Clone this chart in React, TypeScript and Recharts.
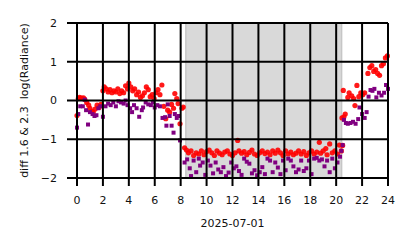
import {
  ScatterChart,
  Scatter,
  XAxis,
  YAxis,
  CartesianGrid,
  ReferenceArea,
  Label,
} from "recharts";

// axis ticks
const xTicks = [0, 2, 4, 6, 8, 10, 12, 14, 16, 18, 20, 22, 24];
const yTicks = [-2, -1, 0, 1, 2];

// shaded night window (hours)
const nightStart = 8.4;
const nightEnd = 20.42;

// red series: [hour, value]
const redDay: [number, number][] = [
  [0.0, -0.39], [0.1, 0.05], [0.2, 0.08], [0.35, 0.06], [0.5, 0.07], [0.6, 0.03],
  [0.75, -0.05], [0.9, -0.12], [1.0, -0.2], [1.15, -0.28], [1.25, -0.3], [1.4, -0.22],
  [1.55, -0.12], [1.7, -0.18], [1.85, -0.1], [2.0, 0.25], [2.1, 0.35], [2.25, 0.3],
  [2.4, 0.22], [2.55, 0.28], [2.7, 0.2], [2.85, 0.25], [3.0, 0.22], [3.15, 0.3],
  [3.3, 0.18], [3.45, 0.25], [3.6, 0.2], [3.75, 0.38], [3.9, 0.3], [4.0, 0.45],
  [4.15, 0.35], [4.3, 0.25], [4.45, 0.3], [4.6, 0.15], [4.75, 0.22], [4.9, 0.08],
  [5.05, 0.12], [5.2, 0.2], [5.35, 0.35], [5.5, 0.28], [5.65, 0.1], [5.8, 0.15],
  [5.95, 0.05], [6.1, 0.2], [6.25, 0.28], [6.4, 0.15], [6.55, 0.4], [6.7, -0.15],
  [6.85, -0.47], [7.0, -0.25], [7.15, -0.3], [7.3, -0.1], [7.45, -0.2], [7.55, 0.18],
  [7.7, 0.05], [7.8, -0.08], [7.95, -0.6], [8.1, -0.2], [8.2, -0.17],
];

const redNight: [number, number][] = [
  [8.3, -1.22], [8.45, -1.28], [8.6, -1.35], [8.8, -1.3], [9.0, -1.42], [9.2, -1.35],
  [9.4, -1.38], [9.6, -1.3], [9.8, -1.4], [10.0, -1.32], [10.2, -1.28], [10.4, -1.35],
  [10.6, -1.42], [10.8, -1.3], [11.0, -1.36], [11.2, -1.4], [11.4, -1.33], [11.6, -1.3],
  [11.8, -1.38], [12.0, -1.42], [12.2, -1.35], [12.4, -1.03], [12.5, -1.3], [12.7, -1.36],
  [12.9, -1.32], [13.1, -1.4], [13.3, -1.34], [13.5, -1.28], [13.7, -1.38], [13.9, -1.42],
  [14.1, -1.35], [14.3, -1.3], [14.5, -1.37], [14.7, -1.33], [14.9, -1.4], [15.1, -1.3],
  [15.3, -1.36], [15.5, -1.28], [15.7, -1.35], [15.9, -1.42], [16.1, -1.3], [16.3, -1.38],
  [16.5, -1.33], [16.7, -1.4], [16.9, -1.36], [17.1, -1.3], [17.3, -1.38], [17.5, -1.32],
  [17.7, -1.42], [17.9, -1.35], [18.1, -1.3], [18.3, -1.38], [18.5, -1.33], [18.7, -1.08],
  [18.8, -1.36], [19.0, -1.3], [19.2, -1.24], [19.3, -1.4], [19.5, -1.12], [19.7, -1.35],
  [19.9, -1.3], [20.1, -1.38], [20.25, -1.15], [20.4, -1.3], [20.5, -1.16],
];

const redDawn: [number, number][] = [
  [20.45, -0.45], [20.6, -0.42], [20.7, -0.35], [20.55, 0.26], [20.9, 0.08], [21.0, 0.2],
  [21.2, 0.12], [21.35, 0.05], [21.45, -0.13], [21.6, 0.39], [21.75, 0.1], [21.9, 0.2],
  [22.05, 0.15], [22.2, 0.2], [22.45, 0.7], [22.6, 0.85], [22.75, 0.9], [22.9, 0.75],
  [23.05, 0.8], [23.2, 0.7], [23.35, 0.65], [23.5, 0.9], [23.65, 0.95], [23.8, 1.1],
  [23.95, 1.15],
];

// purple series: [hour, value]
const purpleDay: [number, number][] = [
  [0.0, -0.7], [0.1, -0.35], [0.25, -0.15], [0.45, -0.15], [0.6, 0.02], [0.7, -0.25],
  [0.85, -0.62], [1.0, -0.3], [1.2, -0.35], [1.35, -0.4], [1.5, -0.38], [1.65, -0.2],
  [1.8, -0.15], [2.0, -0.42], [2.2, -0.15], [2.4, -0.08], [2.6, -0.12], [2.8, -0.05],
  [3.0, -0.15], [3.2, -0.02], [3.4, -0.05], [3.6, -0.08], [3.75, 0.0], [3.9, -0.12],
  [4.1, -0.2], [4.25, -0.3], [4.4, -0.12], [4.6, -0.2], [4.8, -0.42], [5.0, -0.25],
  [5.1, -0.18], [5.3, -0.05], [5.5, -0.1], [5.7, -0.12], [5.85, -0.05], [6.0, -0.18],
  [6.2, -0.12], [6.4, -0.15], [6.6, -0.45], [6.8, -0.43], [6.9, -0.65], [7.0, -0.1],
  [7.15, -0.4], [7.3, -0.65], [7.45, -0.83], [7.55, -0.35], [7.7, -0.45], [7.85, -0.4],
  [7.95, -1.03],
];

const purpleNight: [number, number][] = [
  [8.3, -1.6], [8.5, -1.52], [8.7, -1.75], [8.8, -1.95], [9.0, -1.55], [9.2, -1.85],
  [9.4, -1.5], [9.5, -1.68], [9.7, -1.6], [9.9, -1.92], [10.1, -1.55], [10.3, -1.68],
  [10.5, -1.88], [10.7, -1.6], [10.9, -1.78], [11.1, -1.85], [11.3, -1.72], [11.5, -1.95],
  [11.7, -1.86], [11.9, -1.6], [12.1, -1.75], [12.3, -1.7], [12.5, -1.82], [12.7, -1.92],
  [12.9, -1.5], [13.1, -1.58], [13.3, -1.63], [13.5, -1.88], [13.7, -1.8], [13.9, -1.93],
  [14.1, -1.85], [14.3, -1.72], [14.5, -1.9], [14.7, -1.5], [14.9, -1.55], [15.1, -1.85],
  [15.3, -1.6], [15.5, -1.73], [15.7, -1.9], [15.9, -1.55], [16.1, -1.8], [16.3, -1.5],
  [16.5, -1.55], [16.7, -1.7], [16.9, -1.85], [17.1, -1.78], [17.3, -1.55], [17.5, -1.82],
  [17.7, -1.75], [17.9, -1.55], [18.1, -1.9], [18.3, -1.5], [18.5, -1.48], [18.7, -1.55],
  [18.9, -1.52], [19.1, -1.7], [19.3, -1.55], [19.5, -1.85], [19.7, -1.5], [19.9, -1.75],
  [20.1, -1.6], [20.3, -1.45], [20.4, -1.3], [20.5, -1.15],
];

const purpleDawn: [number, number][] = [
  [20.6, -0.5], [20.75, -0.58], [20.9, -0.6], [21.1, -0.58], [21.3, -0.55], [21.5, -0.6],
  [21.7, -0.48], [21.8, -0.18], [22.0, -0.35], [22.2, -0.45], [22.35, -0.3], [22.5, 0.1],
  [22.65, 0.27], [22.8, 0.25], [22.95, 0.3], [23.1, 0.08], [23.3, 0.2], [23.5, 0.13],
  [23.7, 0.2], [23.85, 0.4], [24.0, 0.3],
];

const toPoints = (rows: [number, number][]) => rows.map(([h, v]) => ({ h, v }));

const redPoints = toPoints([...redDay, ...redNight, ...redDawn]);
const purplePoints = toPoints([...purpleDay, ...purpleNight, ...purpleDawn]);

const FONT = "DejaVu Sans, sans-serif";
const tickStyle = { fill: "#111", fontSize: 11, fontFamily: FONT };

const RedDot = (props: any) => (
  <circle cx={props.cx} cy={props.cy} r={2.6} fill="#ff0000" fillOpacity={0.9} />
);

const PurpleSquare = (props: any) => (
  <rect x={props.cx - 2} y={props.cy - 2} width={4} height={4} fill="#800080" />
);

const fmtY = (v: number) => (v < 0 ? `\u2212${-v}` : `${v}`);

export default function App() {
  return (
    <div style={{ position: "fixed", left: 0, top: 0, width: 414, height: 248, background: "#fff" }}>
      <ScatterChart
        width={414}
        height={248}
        margin={{ top: 23, right: 26, bottom: 0, left: 0 }}
      >
        <ReferenceArea
          x1={nightStart}
          x2={nightEnd}
          y1={-2}
          y2={2}
          fill="#d9d9d9"
          fillOpacity={1}
          stroke="#c6c6c6"
          strokeWidth={1.5}
          zIndex={-200}
        />
        <XAxis
          type="number"
          dataKey="h"
          domain={[0, 24]}
          ticks={xTicks}
          interval={0}
          height={70}
          axisLine={false}
          tickSize={8}
          tickMargin={10}
          tickLine={{ stroke: "#000", strokeWidth: 2 }}
          tick={tickStyle}
        >
          <Label
            value="2025-07-01"
            position="insideBottom"
            offset={21}
            style={{ fill: "#111", fontSize: 11, fontFamily: FONT }}
          />
        </XAxis>
        <YAxis
          type="number"
          dataKey="v"
          domain={[-2, 2]}
          ticks={yTicks}
          interval={0}
          width={77}
          axisLine={false}
          tickSize={10}
          tickMargin={10}
          tickLine={{ stroke: "#000", strokeWidth: 2 }}
          tick={tickStyle}
          tickFormatter={fmtY}
        >
          <Label
            content={() => (
              <text
                x={24}
                y={100.5}
                transform="rotate(-90, 24, 100.5)"
                textAnchor="middle"
                dominantBaseline="central"
                style={{ fill: "#111", fontSize: 11, fontFamily: FONT, whiteSpace: "pre" }}
              >
                {"diff 1.6 & 2.3  log(Radiance)"}
              </text>
            )}
          />
        </YAxis>
        <Scatter data={redPoints} shape={RedDot} isAnimationActive={false} />
        <Scatter data={purplePoints} shape={PurpleSquare} isAnimationActive={false} />
        <CartesianGrid
          stroke="#000"
          strokeWidth={2}
          horizontalValues={yTicks}
          verticalValues={xTicks}
          zIndex={650}
        />
      </ScatterChart>
    </div>
  );
}
